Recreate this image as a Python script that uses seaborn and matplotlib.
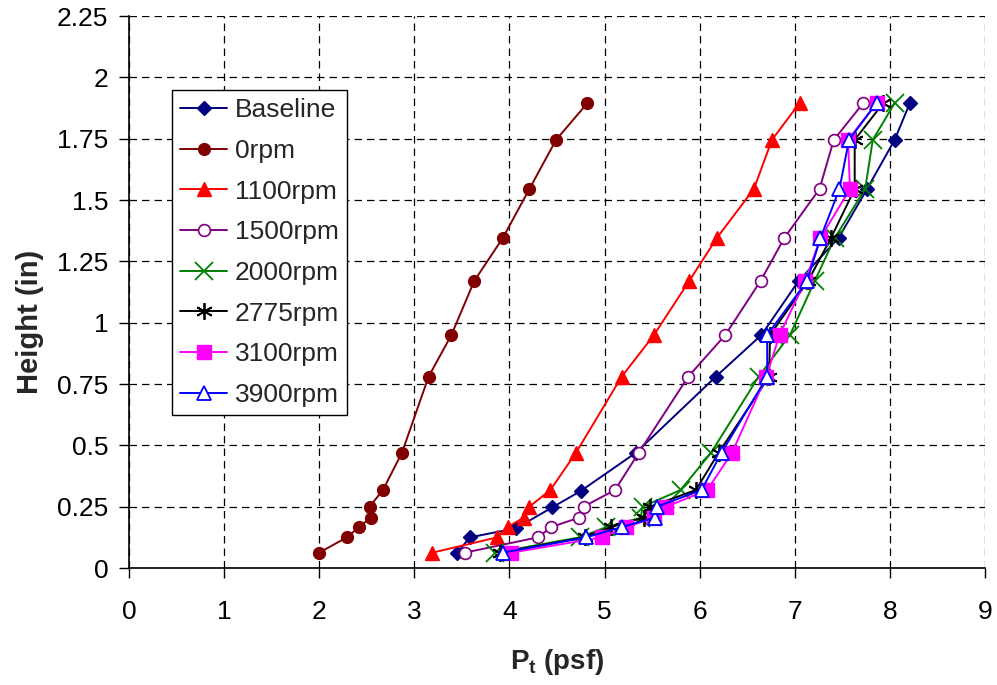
import numpy as np
import pandas as pd
import matplotlib
matplotlib.use("Agg")
import matplotlib.pyplot as plt
import seaborn as sns

# ---- data ----
heights = [0.0625, 0.125, 0.167, 0.205, 0.25, 0.318, 0.47, 0.78, 0.95, 1.17, 1.345, 1.545, 1.745, 1.895]
baseline_heights = [0.0625, 0.125, 0.162, 0.247, 0.314, 0.47, 0.78, 0.95, 1.17, 1.345, 1.545, 1.745, 1.895]

baseline = [3.45, 3.585, 4.07, 4.45, 4.75, 5.33, 6.17, 6.65, 7.04, 7.46, 7.76, 8.05, 8.21]
rpm0 = [2.0, 2.29, 2.42, 2.54, 2.53, 2.67, 2.87, 3.15, 3.39, 3.63, 3.93, 4.21, 4.49, 4.82]
rpm1100 = [3.19, 3.87, 3.98, 4.15, 4.21, 4.43, 4.70, 5.18, 5.52, 5.89, 6.18, 6.57, 6.76, 7.05]
rpm1500 = [3.53, 4.30, 4.44, 4.73, 4.78, 5.11, 5.36, 5.88, 6.27, 6.64, 6.89, 7.26, 7.41, 7.72]
rpm2000 = [3.85, 4.74, 5.02, 5.38, 5.40, 5.80, 6.12, 6.62, 6.95, 7.21, 7.42, 7.74, 7.82, 8.05]
rpm2775 = [3.90, 4.79, 5.07, 5.41, 5.48, 5.96, 6.20, 6.73, 6.74, 7.14, 7.38, 7.63, 7.63, 7.93]
rpm3100 = [4.02, 4.97, 5.23, 5.52, 5.65, 6.08, 6.34, 6.70, 6.84, 7.11, 7.27, 7.58, 7.56, 7.86]
rpm3900 = [3.93, 4.81, 5.18, 5.53, 5.55, 6.02, 6.23, 6.71, 6.71, 7.13, 7.27, 7.47, 7.57, 7.86]

series_names = ["Baseline", "0rpm", "1100rpm", "1500rpm", "2000rpm", "2775rpm", "3100rpm", "3900rpm"]
series_x = [baseline, rpm0, rpm1100, rpm1500, rpm2000, rpm2775, rpm3100, rpm3900]
series_y = [baseline_heights] + [heights] * 7

x_ticks = [0, 1, 2, 3, 4, 5, 6, 7, 8, 9]
y_ticks = [0, 0.25, 0.5, 0.75, 1, 1.25, 1.5, 1.75, 2, 2.25]
y_tick_labels = ["0", "0.25", "0.5", "0.75", "1", "1.25", "1.5", "1.75", "2", "2.25"]

# ---- styles ----
styles = {
    "Baseline": dict(color="#000080", marker="D", ms=7.5, mfc="#000080", mec="#000080", mew=1),
    "0rpm": dict(color="#800000", marker="o", ms=8.5, mfc="#800000", mec="#800000", mew=1),
    "1100rpm": dict(color="#FF0000", marker="^", ms=9.5, mfc="#FF0000", mec="#FF0000", mew=1),
    "1500rpm": dict(color="#800080", marker="o", ms=8.5, mfc="white", mec="#800080", mew=1.2),
    "2000rpm": dict(color="#008000", marker="x", ms=13, mfc="#008000", mec="#008000", mew=1.3),
    "2775rpm": dict(color="#000000", marker=(6, 2, 0), ms=12, mfc="#000000", mec="#000000", mew=1.3),
    "3100rpm": dict(color="#FF00FF", marker="s", ms=9.5, mfc="#FF00FF", mec="#FF00FF", mew=1),
    "3900rpm": dict(color="#0000FF", marker="^", ms=9.5, mfc="white", mec="#0000FF", mew=1.3),
}

sns.set_style("white")
plt.rcParams["font.family"] = ["Liberation Sans", "DejaVu Sans"]
plt.rcParams["mathtext.fontset"] = "custom"
plt.rcParams["mathtext.rm"] = "Liberation Sans:bold"
plt.rcParams["mathtext.default"] = "rm"

fig = plt.figure(figsize=(9.97, 6.85), dpi=100)
ax = fig.add_axes([129 / 997, 1 - 568 / 685, (985 - 129) / 997, (568 - 16) / 685])

for name, xs, ys in zip(series_names, series_x, series_y):
    df = pd.DataFrame({"P": xs, "H": ys})
    st = styles[name]
    sns.lineplot(data=df, x="P", y="H", ax=ax, sort=False, estimator=None,
                 color=st["color"], marker=st["marker"], markersize=st["ms"],
                 markerfacecolor=st["mfc"], markeredgecolor=st["mec"],
                 markeredgewidth=st["mew"], linewidth=1.4, label=name)

ax.set_xlim(0, 9)
ax.set_ylim(0, 2.25)
ax.set_xticks(x_ticks)
ax.set_yticks(y_ticks)
ax.set_yticklabels(y_tick_labels)
ax.grid(True, color="black", linestyle=(0, (6, 4)), linewidth=0.9)
for s in ["top", "right"]:
    ax.spines[s].set_visible(False)
for s in ["left", "bottom"]:
    ax.spines[s].set_color("black")
    ax.spines[s].set_linewidth(1.2)
ax.tick_params(axis="both", which="major", direction="out", length=7, width=1,
               colors="black", labelsize=19)
ax.tick_params(axis="y", pad=8, left=True)
ax.tick_params(axis="x", pad=16, bottom=True)
ax.set_xlabel("")
ax.set_ylabel("")

fig.text(30 / 997, 1 - 322 / 685, "Height (in)", rotation=90, ha="center", va="center",
         fontsize=21, fontweight="bold")
fig.text(557 / 997, 1 - 662 / 685, r"P$_{t}$ (psf)", ha="center", va="center",
         fontsize=20, fontweight="bold")

leg = ax.legend(loc="upper left", bbox_to_anchor=((172 - 129) / 856, (568 - 90) / 552),
                borderaxespad=0, frameon=True, fancybox=False, shadow=False,
                fontsize=19, handlelength=1.75, handletextpad=0.3, labelspacing=0.63,
                borderpad=0.32)
leg.get_frame().set_edgecolor("black")
leg.get_frame().set_linewidth(1.0)
leg.get_frame().set_alpha(1)

fig.savefig("out.png", dpi=100)
